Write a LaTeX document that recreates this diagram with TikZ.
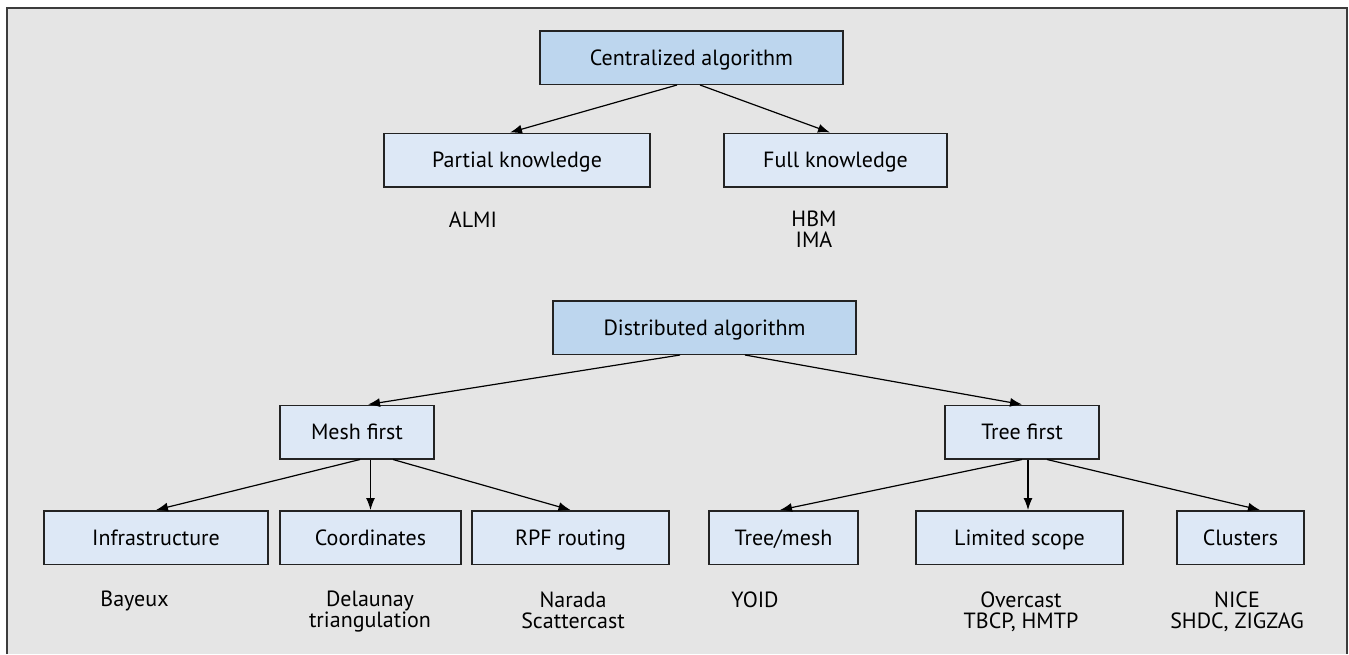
\documentclass[tikz,border=0pt]{standalone}
\usepackage{fontspec}
\setmainfont{PT Sans}
\usetikzlibrary{arrows.meta}
\definecolor{topColor}{RGB}{189,214,238}
\definecolor{subColor}{RGB}{221,232,246}
\definecolor{bgColor}{RGB}{229,229,229}
\definecolor{edgeColor}{RGB}{35,35,35}
\definecolor{frameColor}{RGB}{60,60,60}
\tikzset{
  box/.style={draw=edgeColor,line width=0.75pt,minimum height=26.75pt,inner sep=0pt,
              text height=7.7pt,text depth=0pt,
              font=\fontsize{11}{11}\selectfont},
  topbox/.style={box,fill=topColor},
  subbox/.style={box,fill=subColor},
  lbl/.style={anchor=north,align=center,inner sep=0pt,
              font=\fontsize{11}{10.5}\selectfont},
  arr/.style={-{Latex[length=6pt,width=4.5pt]},line width=0.6pt,draw=black}
}

\begin{document}
\begin{tikzpicture}[x=0.5pt,y=-0.5pt]
\useasboundingbox (0,0) rectangle (1349,654);
\fill[bgColor] (7,8) rectangle (1347,654);
\draw[frameColor,line width=0.75pt] (7,654) -- (7,8) -- (1347,8) -- (1347,654);
%
\node[topbox,minimum width=151.5pt] (cen) at (691.5,57.5) {Centralized algorithm};
\node[subbox,minimum width=133pt] (part) at (517,160) {Partial knowledge};
\node[subbox,minimum width=111.5pt] (full) at (835.5,160) {Full knowledge};
\node[lbl] (almi) at (473,211) {ALMI};
\node[lbl] (hbm) at (814,211) {HBM\\IMA};
%
\node[topbox,minimum width=151.5pt] (dist) at (704.5,327.5) {Distributed algorithm};
\node[subbox,minimum width=77pt] (mesh) at (357,432) {Mesh first};
\node[subbox,minimum width=77pt] (tree) at (1022,432) {Tree first};
\node[subbox,minimum width=112pt] (infra) at (156,537.5) {Infrastructure};
\node[subbox,minimum width=90.5pt] (coord) at (370.5,537.5) {Coordinates};
\node[subbox,minimum width=98.5pt] (rpf) at (570.5,537.5) {RPF routing};
\node[subbox,minimum width=74.5pt] (tmesh) at (783.5,537.5) {Tree/mesh};
\node[subbox,minimum width=103.5pt] (lim) at (1019.5,537.5) {Limited scope};
\node[subbox,minimum width=63.5pt] (clus) at (1240.5,537.5) {Clusters};
%
\node[lbl] (bay) at (134.5,591) {Bayeux};
\node[lbl] (del) at (370,591) {Delaunay\\triangulation};
\node[lbl] (nar) at (573,591) {Narada\\Scattercast};
\node[lbl] (yoid) at (755,591) {YOID};
\node[lbl] (over) at (1021,591) {Overcast\\TBCP, HMTP};
\node[lbl] (nice) at (1237,591) {NICE\\SHDC, ZIGZAG};
%
\draw[arr] ([xshift=-7.25pt]cen.south) -- ([xshift=-3.5pt]part.north);
\draw[arr] ([xshift=4.25pt]cen.south) -- ([xshift=-2.75pt]full.north);
\draw[arr] ([xshift=-12.25pt]dist.south) -- ([xshift=5.5pt]mesh.north);
\draw[arr] ([xshift=20.25pt]dist.south) -- (tree.north);
\draw[arr] ([xshift=1.5pt]mesh.south) -- (infra.north);
\draw[arr] ([xshift=6.75pt]mesh.south) -- (coord.north);
\draw[arr] ([xshift=18pt]mesh.south) -- (rpf.north);
\draw[arr] (tree.south) -- ([xshift=-1.75pt]tmesh.north);
\draw[arr] ([xshift=3pt]tree.south) -- ([xshift=4.25pt]lim.north);
\draw[arr] ([xshift=12.5pt]tree.south) -- ([xshift=9.75pt]clus.north);
\end{tikzpicture}
\end{document}
